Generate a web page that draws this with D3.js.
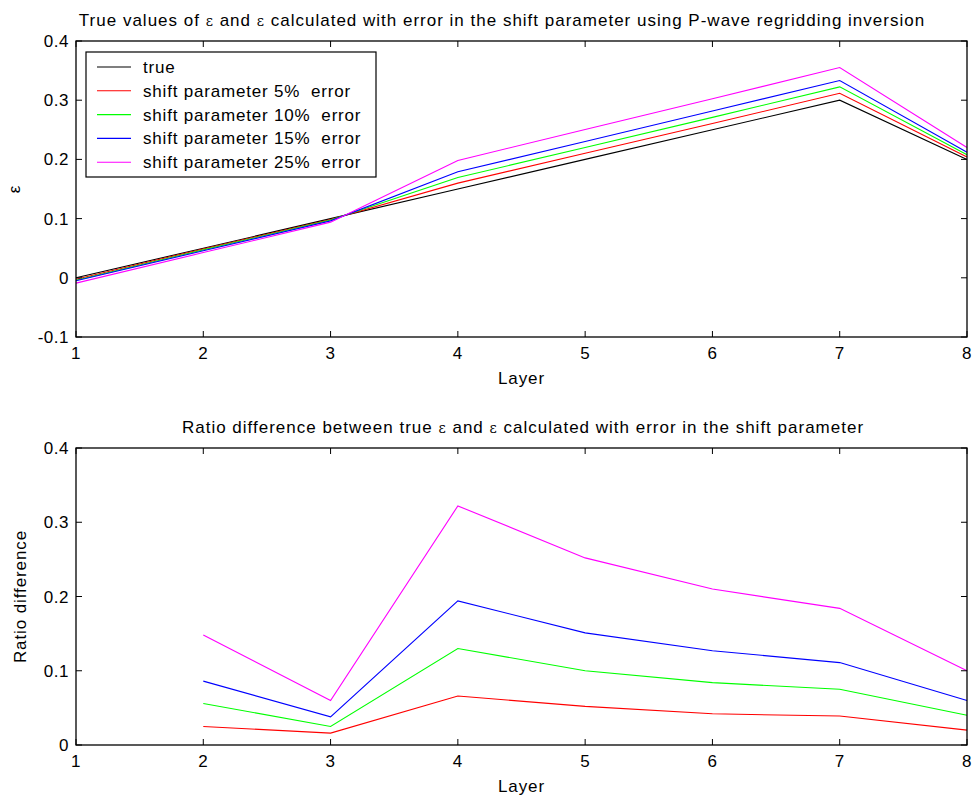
<!DOCTYPE html>
<html>
<head>
<meta charset="utf-8">
<script src="https://cdn.jsdelivr.net/npm/d3@7"></script>
<style>
  body { margin: 0; background: #fff; }
  svg { display: block; font-family: "Liberation Sans", Arial, sans-serif; }
  .tick-label { font-size: 17px; fill: #000; letter-spacing: 0.5px; }
  .axis-title { font-size: 17px; fill: #000; letter-spacing: 0.9px; }
  .plot-title { font-size: 17px; fill: #000; letter-spacing: 1px; }
  .legend-text { font-size: 17px; fill: #000; letter-spacing: 0.8px; white-space: pre; }
</style>
</head>
<body>
<div id="chart"></div>
<script>
// Layers (x values)
const layers = [1, 2, 3, 4, 5, 6, 7, 8];

// Top panel: epsilon values
const epsTrue  = [0.000, 0.050, 0.100, 0.150, 0.200, 0.250, 0.300, 0.200];
const eps5     = [-0.0025, 0.0488, 0.0984, 0.1599, 0.2104, 0.2605, 0.3117, 0.2040];
const eps10    = [-0.004, 0.0472, 0.0975, 0.1695, 0.2200, 0.2710, 0.3225, 0.2080];
const eps15    = [-0.005, 0.0457, 0.0962, 0.1791, 0.2302, 0.2818, 0.3333, 0.2120];
const eps25    = [-0.009, 0.0426, 0.0940, 0.1983, 0.2504, 0.3025, 0.3552, 0.2200];

// Bottom panel: ratio difference (layers 2..8)
const ratioLayers = [2, 3, 4, 5, 6, 7, 8];
const ratio5  = [0.025, 0.016, 0.066, 0.052, 0.042, 0.039, 0.020];
const ratio10 = [0.056, 0.025, 0.130, 0.100, 0.084, 0.075, 0.040];
const ratio15 = [0.086, 0.038, 0.194, 0.151, 0.127, 0.111, 0.060];
const ratio25 = [0.148, 0.060, 0.322, 0.252, 0.210, 0.184, 0.100];

const legendLabels = ["true", "shift parameter 5%  error", "shift parameter 10%  error",
                      "shift parameter 15%  error", "shift parameter 25%  error"];
const colors = ["#000000", "#ff0000", "#00ff00", "#0000ff", "#ff00ff"];

const topTicks = [-0.1, 0, 0.1, 0.2, 0.3, 0.4];
const bottomTicks = [0, 0.1, 0.2, 0.3, 0.4];

const W = 975, H = 799;
const svg = d3.select("#chart").append("svg")
    .attr("width", W)
    .attr("height", H);

function drawPanel(opts) {
    const { top, bottom, left, right, yDomain, yTicks, series, xs, title, ylabel } = opts;

    const x = d3.scaleLinear().domain([1, 8]).range([left, right]);
    const y = d3.scaleLinear().domain(yDomain).range([bottom, top]);
    const g = svg.append("g");

    // lines
    const line = d3.line()
        .x((d, i) => x(xs[i]))
        .y(d => y(d));

    series.forEach(s => {
        g.append("path")
            .datum(s.values)
            .attr("fill", "none")
            .attr("stroke", s.color)
            .attr("stroke-width", 1.1)
            .attr("d", line);
    });

    // box
    g.append("rect")
        .attr("x", left).attr("y", top)
        .attr("width", right - left).attr("height", bottom - top)
        .attr("fill", "none").attr("stroke", "#000").attr("stroke-width", 1.3);

    const tl = 6;
    // x ticks (inside, top and bottom)
    layers.forEach(v => {
        g.append("line").attr("x1", x(v)).attr("x2", x(v)).attr("y1", bottom).attr("y2", bottom - tl)
            .attr("stroke", "#000");
        g.append("line").attr("x1", x(v)).attr("x2", x(v)).attr("y1", top).attr("y2", top + tl)
            .attr("stroke", "#000");
        g.append("text").attr("class", "tick-label")
            .attr("x", x(v)).attr("y", bottom + 22)
            .attr("text-anchor", "middle")
            .text(v);
    });

    // y ticks
    yTicks.forEach(v => {
        g.append("line").attr("x1", left).attr("x2", left + tl).attr("y1", y(v)).attr("y2", y(v))
            .attr("stroke", "#000");
        g.append("line").attr("x1", right).attr("x2", right - tl).attr("y1", y(v)).attr("y2", y(v))
            .attr("stroke", "#000");
        g.append("text").attr("class", "tick-label")
            .attr("x", left - 7).attr("y", y(v) + 6)
            .attr("text-anchor", "end")
            .text(+v.toFixed(1));
    });

    // title
    g.append("text").attr("class", "plot-title")
        .attr("x", opts.titleX).attr("y", top - 15)
        .attr("text-anchor", "middle")
        .html(title);

    // x label
    g.append("text").attr("class", "axis-title")
        .attr("x", (left + right) / 2).attr("y", bottom + 47)
        .attr("text-anchor", "middle")
        .text("Layer");

    // y label
    g.append("text").attr("class", "axis-title")
        .attr("transform", `translate(${opts.ylabelX},${(top + bottom) / 2}) rotate(-90)`)
        .attr("text-anchor", "middle")
        .text(ylabel);

    return { x, y, g };
}

const eps = "<tspan style='font-family:\"DejaVu Serif\",serif;font-size:14px'>\u03b5</tspan>";

const topPanel = drawPanel({
    top: 41, bottom: 337, left: 76, right: 967,
    yDomain: [-0.1, 0.4], yTicks: topTicks,
    xs: layers,
    series: [epsTrue, eps5, eps10, eps15, eps25].map((v, i) => ({ values: v, color: colors[i] })),
    title: `True values of ${eps} and ${eps} calculated with error in the shift parameter using P-wave regridding inversion`,
    titleX: 502,
    ylabel: "\u03b5", ylabelX: 20
});

drawPanel({
    top: 448, bottom: 745, left: 76, right: 967,
    yDomain: [0, 0.4], yTicks: bottomTicks,
    xs: ratioLayers,
    series: [ratio5, ratio10, ratio15, ratio25].map((v, i) => ({ values: v, color: colors[i + 1] })),
    title: `Ratio difference between true ${eps} and ${eps} calculated with error in the shift parameter`,
    titleX: 523,
    ylabel: "Ratio difference", ylabelX: 26
});

// legend
const lg = topPanel.g.append("g");
lg.append("rect")
    .attr("x", 86).attr("y", 52).attr("width", 290).attr("height", 125)
    .attr("fill", "#fff").attr("stroke", "#000").attr("stroke-width", 1.2);
legendLabels.forEach((label, i) => {
    const yy = 67 + i * 23.8;
    lg.append("line").attr("x1", 97).attr("x2", 131).attr("y1", yy).attr("y2", yy)
        .attr("stroke", colors[i]).attr("stroke-width", 1.1);
    lg.append("text").attr("class", "legend-text")
        .attr("x", 143).attr("y", yy + 6)
        .text(label);
});
</script>
</body>
</html>
